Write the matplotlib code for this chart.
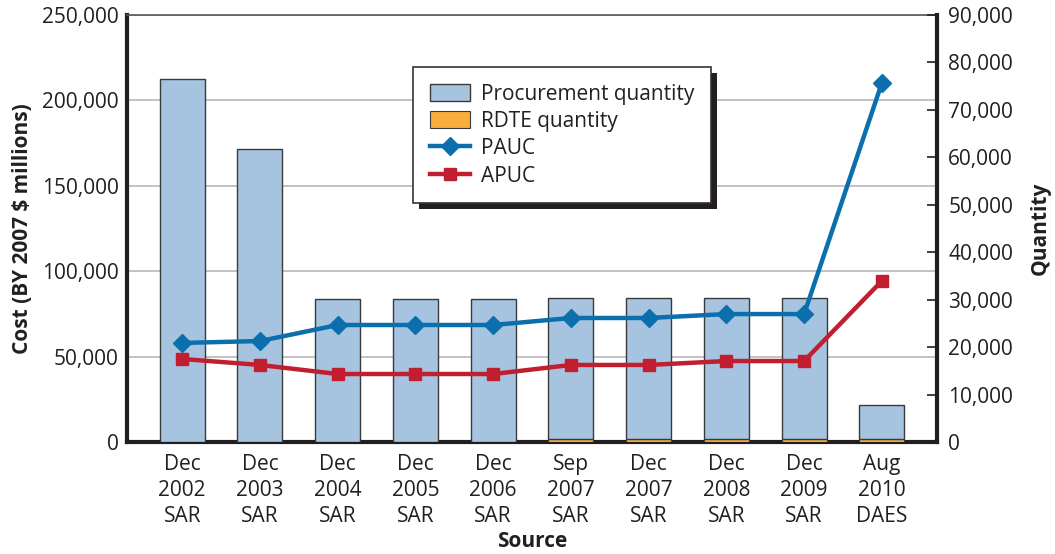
import matplotlib.pyplot as plt
from matplotlib.patches import Rectangle
from matplotlib.ticker import FuncFormatter

plt.rcParams['font.family'] = ['Open Sans', 'DejaVu Sans']

# Data
sources = ["Dec\n2002\nSAR", "Dec\n2003\nSAR", "Dec\n2004\nSAR", "Dec\n2005\nSAR",
           "Dec\n2006\nSAR", "Sep\n2007\nSAR", "Dec\n2007\nSAR", "Dec\n2008\nSAR",
           "Dec\n2009\nSAR", "Aug\n2010\nDAES"]
procurement_qty = [76500, 61700, 30200, 30200, 30200, 29700, 29700, 29700, 29700, 7100]
rdte_qty = [0, 0, 0, 0, 0, 700, 700, 700, 700, 700]
pauc = [58000, 59100, 68500, 68500, 68500, 72600, 72600, 74900, 74900, 210200]
apuc = [48600, 45100, 39800, 39800, 39800, 45100, 45100, 47400, 47400, 94300]

text_color = '#231f20'
bar_blue = '#a6c4e0'
rdte_orange = '#f9ae3c'
pauc_blue = '#0b6fae'
apuc_red = '#c11e2f'

fig = plt.figure(figsize=(10.55, 5.54), dpi=100)
ax = fig.add_axes([0.1204, 0.2022, 0.7678, 0.7707])
ax2 = ax.twinx()

x = list(range(len(sources)))

# cost axis (left) holds the gridlines
ax.set_ylim(0, 250000)
ax.set_xlim(-0.71, 9.71)
ax.set_yticks(range(0, 250001, 50000))
ax.yaxis.set_major_formatter(FuncFormatter(lambda v, p: f"{int(v):,}"))
ax.grid(axis='y', color='#b8b8bc', lw=1.2)
ax.tick_params(axis='y', length=0, labelsize=15, colors=text_color, pad=6)
ax.tick_params(axis='x', length=0, labelsize=15, colors=text_color, pad=9)
ax.set_xticks(x)
ax.set_xticklabels(sources, linespacing=1.3)
ax.set_axisbelow(True)

# quantity axis (right) holds the bars
ax2.set_ylim(0, 90000)
ax2.set_yticks(range(0, 90001, 10000))
ax2.yaxis.set_major_formatter(FuncFormatter(lambda v, p: f"{int(v):,}"))
ax2.tick_params(axis='y', direction='in', length=7, width=1.2, labelsize=15,
                colors=text_color, pad=8)

b1 = ax2.bar(x, rdte_qty, width=0.58, color=rdte_orange, edgecolor='#3a3a3a', lw=0.8,
             label='RDTE quantity')
b2 = ax2.bar(x, procurement_qty, width=0.58, bottom=rdte_qty, color=bar_blue,
             edgecolor='#3a3a3a', lw=1, label='Procurement quantity')

# unit cost lines use the cost axis scale, drawn above the bars
l1, = ax2.plot(x, pauc, transform=ax.transData, color=pauc_blue, lw=3.2,
               marker='D', markersize=9, label='PAUC', zorder=5, clip_on=False)
l2, = ax2.plot(x, apuc, transform=ax.transData, color=apuc_red, lw=3.2,
               marker='s', markersize=9, label='APUC', zorder=5, clip_on=False)

for s in ['left', 'bottom', 'top']:
    ax2.spines[s].set_visible(False)
ax2.spines['right'].set_linewidth(3)
ax2.spines['right'].set_color(text_color)
ax.spines['right'].set_visible(False)
ax.spines['left'].set_linewidth(3)
ax.spines['bottom'].set_linewidth(3)
ax.spines['left'].set_color(text_color)
ax.spines['bottom'].set_color(text_color)
ax.spines['top'].set_linewidth(1.2)
ax.spines['top'].set_color('#555555')

ax.set_ylabel('Cost (BY 2007 $ millions)', fontsize=15, fontweight='bold',
              color=text_color, labelpad=6)
ax2.set_ylabel('Quantity', fontsize=15, fontweight='bold', color=text_color,
               labelpad=12)
ax.set_xlabel('Source', fontsize=15, fontweight='bold', color=text_color, labelpad=3)

leg = ax2.legend([b2, b1, l1, l2],
                 ['Procurement quantity', 'RDTE quantity', 'PAUC', 'APUC'],
                 loc='upper left', bbox_to_anchor=(0.353, 0.878), fontsize=15,
                 frameon=True, fancybox=False, edgecolor='#333333', framealpha=1,
                 borderpad=0.8, handlelength=1.95, handleheight=0.9,
                 labelspacing=0.3, borderaxespad=0, handletextpad=0.5)
leg.get_frame().set_linewidth(1.2)
for t in leg.get_texts():
    t.set_color(text_color)

# hard drop shadow behind the legend box
fig.canvas.draw()
bb = leg.get_window_extent()
shadow = Rectangle((bb.x0 + 6, bb.y0 - 6), bb.width, bb.height, transform=None,
                   facecolor='#231f20', edgecolor='none', zorder=4.5)
ax2.add_artist(shadow)

fig.savefig('out.png', dpi=100)
